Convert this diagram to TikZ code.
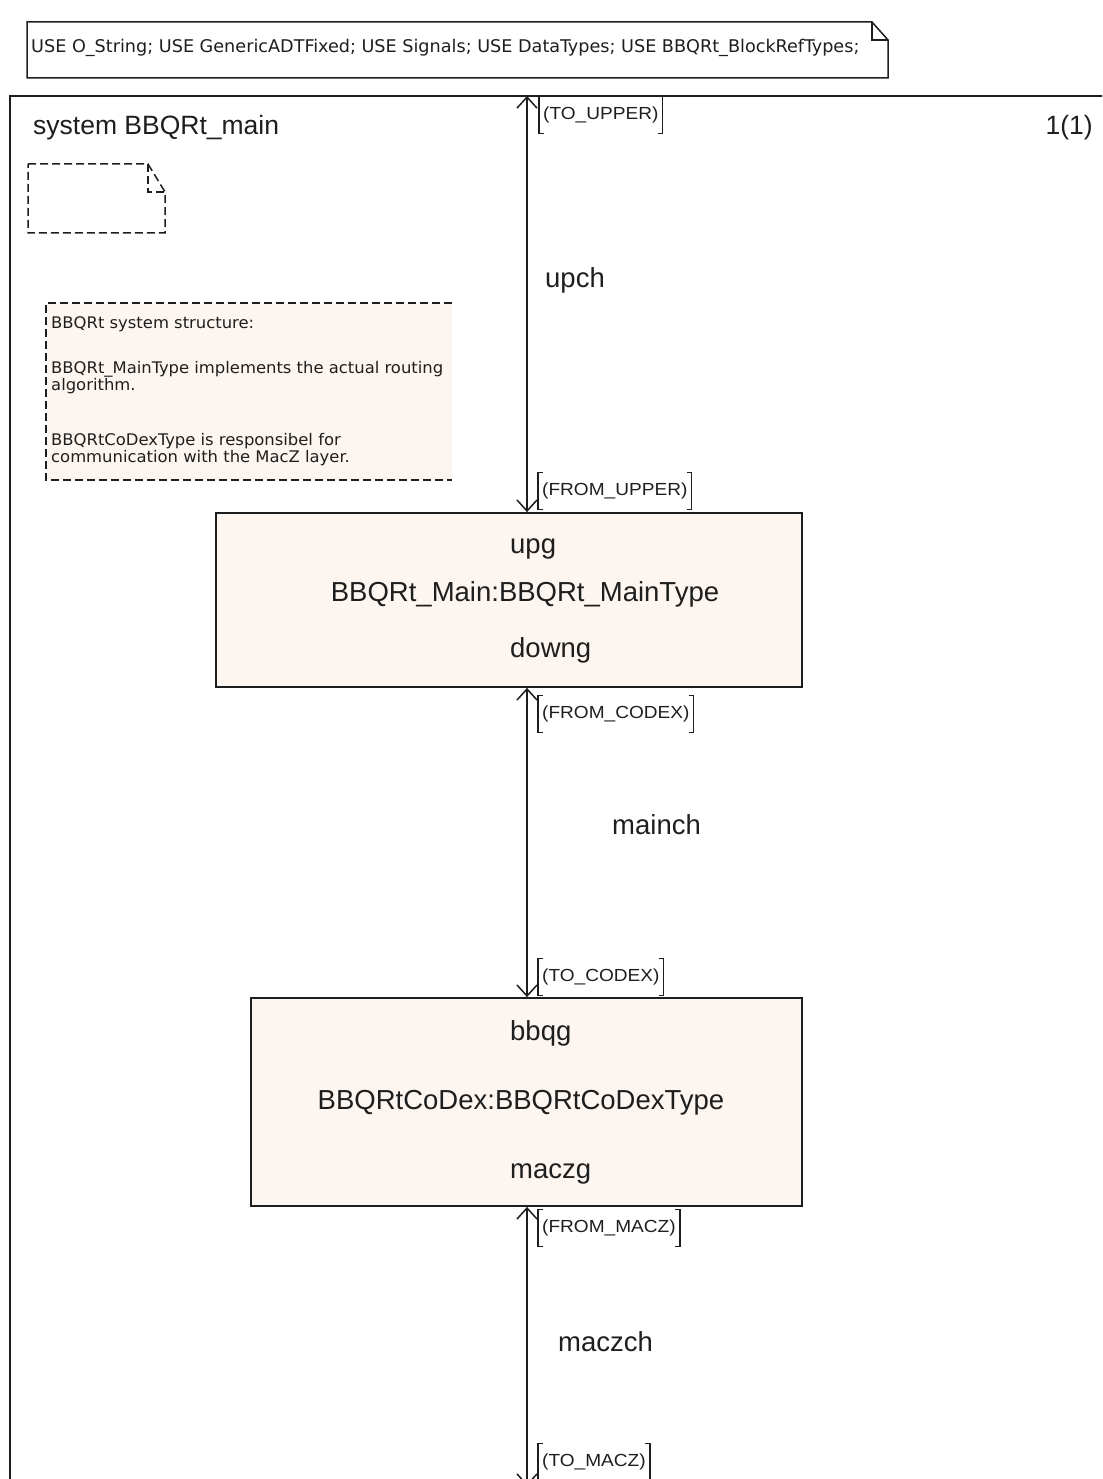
\documentclass[tikz,border=0pt]{standalone}
\usepackage{fontspec}
\usepackage{graphicx}
\setmainfont{Liberation Sans}
\newfontfamily\condfont{DejaVu Sans Condensed}
\usetikzlibrary{arrows.meta}
\definecolor{blockfill}{RGB}{253,246,240}
\definecolor{inkline}{RGB}{30,30,30}
\tikzset{
  bigtext/.style={font=\fontsize{27.5}{32}\selectfont, inner sep=0pt, text=inkline},
  headtext/.style={font=\fontsize{26.5}{30}\selectfont, inner sep=0pt, text=inkline},
  sigtext/.style={font=\fontsize{17.5}{22}\selectfont, inner xsep=4pt, inner ysep=0pt,
                  minimum height=36pt, text=inkline},
  brk/.style={draw=inkline, line width=1.3pt},
  blockbox/.style={draw=inkline, line width=1.8pt, fill=blockfill, inner sep=0pt},
  chan/.style={draw=inkline, line width=1.8pt,
               {Straight Barb[length=11pt,width=20pt,line width=1.5pt]}-{Straight Barb[length=11pt,width=20pt,line width=1.5pt]}},
  frameline/.style={draw=inkline, line width=1.8pt},
  dashline/.style={draw=inkline, line width=1.5pt, dash pattern=on 8pt off 4pt},
  usetext/.style={font=\condfont\fontsize{17.5}{22}\selectfont, inner sep=0pt, text=inkline},
  notetext/.style={font=\condfont\fontsize{16}{17}\selectfont, inner sep=0pt, text=inkline, anchor=base west}
}
% horizontally widened small text
\newcommand\wide[2]{\scalebox{#1}[1]{#2}}
% signal list label enclosed in square brackets
\newcommand\siglabel[3]{%
  \node[sigtext, anchor=west] (#1) at #2 {\wide{1.09}{#3}};
  \draw[brk] ([xshift=5pt]#1.north west) -- (#1.north west) -- (#1.south west) -- ([xshift=5pt]#1.south west);
  \draw[brk] ([xshift=-5pt]#1.north east) -- (#1.north east) -- (#1.south east) -- ([xshift=-5pt]#1.south east);
}
\begin{document}
\begin{tikzpicture}[x=1pt,y=-1pt]
\useasboundingbox (0,0) rectangle (1102,1479);
\clip (0,0) rectangle (1102,1479);

% package usage note with folded corner
\coordinate (useNW) at (27,22);
\coordinate (useSE) at (888,78);
\draw[frameline, line width=1.5pt] (useNW) -- (872,22) -- (888,40) |- (useSE) -| (useNW) -- cycle;
\draw[frameline, line width=1.3pt] (872,22) -- (872,40) -- (888,40);
\node[usetext, anchor=base west] (usetxt) at (31,53)
  {\wide{1.12}{USE O\_String; USE GenericADTFixed; USE Signals; USE DataTypes; USE BBQRt\_BlockRefTypes;}};

% system frame
\coordinate (frameNW) at (10,96);
\coordinate (frameSE) at (1120,1500);
\draw[frameline] (frameNW) rectangle (frameSE);
\node[headtext, anchor=base west] (sysname) at (33,135) {system BBQRt\_main};
\node[headtext, anchor=base east] (pagenum) at (1093,135) {1(1)};

% dashed text symbol
\draw[dashline] (28,164) -- (148,164) -- (165,192) -- (165,233) -- (28,233) -- cycle;
\draw[dashline] (148,164) -- (148,192) -- (165,192);

% comment
\fill[blockfill] (46,303) rectangle (452,480);
\draw[dashline] (452,303) -- (46,303) -- (46,480) -- (452,480);
\node[notetext] (cmtA) at (51,328) {\wide{1.14}{BBQRt system structure:}};
\node[notetext] (cmtB) at (51,373) {\wide{1.14}{BBQRt\_MainType implements the actual routing}};
\node[notetext] (cmtC) at (51,390) {\wide{1.14}{algorithm.}};
\node[notetext] (cmtD) at (51,445) {\wide{1.14}{BBQRtCoDexType is responsibel for}};
\node[notetext] (cmtE) at (51,462) {\wide{1.14}{communication with the MacZ layer.}};

% blocks
\node[blockbox, minimum width=586pt, minimum height=174pt] (upg) at (509,600) {};
\node[bigtext, anchor=base west] (upgGate) at (510,553) {upg};
\node[bigtext, anchor=base] (upgType) at (525,601) {BBQRt\_Main:BBQRt\_MainType};
\node[bigtext, anchor=base west] (downgGate) at (510,657) {downg};

\node[blockbox, minimum width=551pt, minimum height=208pt] (bbqg) at (526.5,1102) {};
\node[bigtext, anchor=base west] (bbqgGate) at (510,1040) {bbqg};
\node[bigtext, anchor=base] (bbqgType) at (521,1109) {BBQRtCoDex:BBQRtCoDexType};
\node[bigtext, anchor=base west] (maczgGate) at (510,1178) {maczg};

% channels
\coordinate (chx) at (527,0);
\coordinate (envTop) at (527,96);
\coordinate (envBottom) at (527,1486);
\draw[chan] (envTop) -- (upg.north -| chx);
\draw[chan] (upg.south -| chx) -- (bbqg.north -| chx);
\draw[chan] (bbqg.south -| chx) -- (envBottom);

\node[bigtext, anchor=base west] (upch) at (545,287) {upch};
\node[bigtext, anchor=base west] (mainch) at (612,834) {mainch};
\node[bigtext, anchor=base west] (maczch) at (558,1351) {maczch};

% signal lists
\siglabel{toUpper}{(539,115)}{(TO\_UPPER)}
\siglabel{fromUpper}{(538,491)}{(FROM\_UPPER)}
\siglabel{fromCodex}{(538,714)}{(FROM\_CODEX)}
\siglabel{toCodex}{(538,977)}{(TO\_CODEX)}
\siglabel{fromMacz}{(538,1228)}{(FROM\_MACZ)}
\siglabel{toMacz}{(538,1462)}{(TO\_MACZ)}
\end{tikzpicture}
\end{document}
